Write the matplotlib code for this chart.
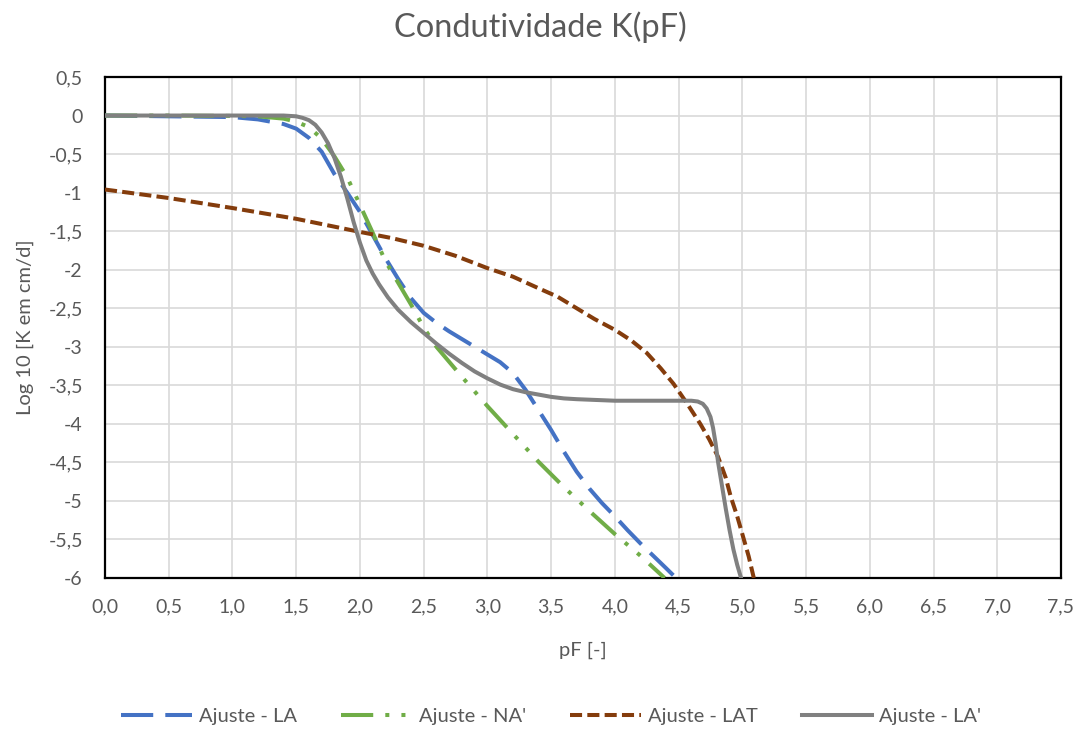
import matplotlib
matplotlib.use("Agg")
import matplotlib.pyplot as plt
from matplotlib.ticker import FixedLocator, FuncFormatter

# ---- data ----
pf_la = [0, 0.5, 1.0, 1.2, 1.4, 1.5, 1.6, 1.7, 1.8, 1.9, 2.0, 2.1, 2.2, 2.3, 2.4, 2.5, 2.6,
         2.7, 2.8, 2.9, 3.0, 3.1, 3.2, 3.3, 3.4, 3.5, 3.6, 3.7, 3.8, 3.9, 4.0, 4.1, 4.2,
         4.3, 4.4, 4.48]
k_la = [0, -0.01, -0.02, -0.05, -0.11, -0.17, -0.29, -0.47, -0.76, -1.0, -1.25, -1.55,
        -1.85, -2.12, -2.37, -2.56, -2.69, -2.8, -2.9, -3.0, -3.1, -3.2, -3.34, -3.56,
        -3.82, -4.08, -4.36, -4.62, -4.84, -5.03, -5.2, -5.38, -5.55, -5.71, -5.87, -6.0]

pf_na = [0, 0.5, 1.0, 1.2, 1.4, 1.5, 1.6, 1.7, 1.8, 1.9, 2.0, 2.1, 2.2, 2.3, 2.4, 2.5,
         2.6, 2.8, 3.0, 3.2, 3.4, 3.6, 3.8, 4.0, 4.2, 4.39]
k_na = [0, 0, -0.005, -0.01, -0.04, -0.08, -0.15, -0.3, -0.53, -0.8, -1.16, -1.52,
        -1.89, -2.17, -2.45, -2.75, -3.0, -3.39, -3.77, -4.13, -4.49, -4.82, -5.13,
        -5.43, -5.71, -6.0]

pf_lat = [0, 0.5, 1.0, 1.5, 2.0, 2.25, 2.5, 2.75, 3.0, 3.2, 3.4, 3.55, 3.7, 3.84, 4.0,
          4.13, 4.25, 4.36, 4.46, 4.56, 4.67, 4.74, 4.81, 4.87, 4.91, 4.96, 5.0, 5.05,
          5.09]
k_lat = [-0.96, -1.07, -1.2, -1.34, -1.51, -1.59, -1.69, -1.82, -1.98, -2.09, -2.24,
         -2.35, -2.5, -2.64, -2.78, -2.92, -3.08, -3.28, -3.48, -3.72, -4.0, -4.2,
         -4.43, -4.7, -4.95, -5.2, -5.43, -5.72, -6.0]

pf_la2 = [0, 0.5, 1.0, 1.4, 1.5, 1.55, 1.6, 1.65, 1.7, 1.75, 1.8, 1.85, 1.9, 1.95, 2.0,
          2.05, 2.1, 2.15, 2.22, 2.3, 2.4, 2.5, 2.6, 2.7, 2.8, 2.9, 3.0, 3.1, 3.2, 3.3,
          3.4, 3.5, 3.6, 3.7, 3.85, 4.0, 4.3, 4.6, 4.65, 4.69, 4.72, 4.75, 4.77, 4.79,
          4.81, 4.84, 4.87, 4.9, 4.93, 4.96, 4.99]
k_la2 = [0, 0, 0, 0, -0.01, -0.03, -0.06, -0.12, -0.22, -0.36, -0.55, -0.79, -1.07,
         -1.38, -1.65, -1.88, -2.05, -2.19, -2.36, -2.52, -2.68, -2.82, -2.96, -3.09,
         -3.21, -3.32, -3.41, -3.49, -3.55, -3.59, -3.62, -3.65, -3.67, -3.68, -3.69,
         -3.70, -3.70, -3.70, -3.71, -3.74, -3.80, -3.91, -4.05, -4.25, -4.5, -4.8,
         -5.1, -5.38, -5.63, -5.83, -6.0]

series_names = ["Ajuste - LA", "Ajuste - NA'", "Ajuste - LAT", "Ajuste - LA'"]
title = "Condutividade K(pF)"
xlabel = "pF [-]"
ylabel = "Log 10 [K em cm/d]"
x_ticks = [i * 0.5 for i in range(16)]
y_ticks = [0.5 - i * 0.5 for i in range(14)]

# ---- style ----
plt.rcParams['font.family'] = ['Lato', 'DejaVu Sans']
txt = '#595959'
c_blue, c_green, c_brown, c_gray = '#4472C4', '#70AD47', '#843C0C', '#808080'
lw = 2.9

fig = plt.figure(figsize=(10.81, 7.31), dpi=100)
ax = fig.add_axes([105 / 1081, (731 - 578) / 731, (1061 - 105) / 1081, (578 - 77) / 731])

ax.plot(pf_la, k_la, color=c_blue, lw=lw, dashes=(8, 3), solid_capstyle='butt',
        label=series_names[0], zorder=3)
ax.plot(pf_na, k_na, color=c_green, lw=lw, dashes=(8, 3, 1, 3, 1, 3),
        label=series_names[1], zorder=3)
ax.plot(pf_lat, k_lat, color=c_brown, lw=lw, dashes=(3, 1.3),
        label=series_names[2], zorder=3)
ax.plot(pf_la2, k_la2, color=c_gray, lw=lw, label=series_names[3], zorder=4,
        solid_joinstyle='round')

ax.set_xlim(0, 7.5)
ax.set_ylim(-6, 0.5)
ax.xaxis.set_major_locator(FixedLocator(x_ticks))
ax.yaxis.set_major_locator(FixedLocator(y_ticks))
ax.xaxis.set_major_formatter(FuncFormatter(lambda v, p: f"{v:.1f}".replace('.', ',')))


def yfmt(v, p):
    if abs(v - round(v)) < 1e-9:
        return f"{int(round(v))}"
    return f"{v:.1f}".replace('.', ',')


ax.yaxis.set_major_formatter(FuncFormatter(yfmt))
ax.grid(True, color='#D9D9D9', lw=1.2, zorder=0)
ax.set_axisbelow(True)
for s in ax.spines.values():
    s.set_color('black')
    s.set_linewidth(1.6)
ax.tick_params(length=0, labelsize=14, colors=txt)
ax.tick_params(axis='y', pad=16)
ax.tick_params(axis='x', pad=15)

ax.set_xlabel(xlabel, fontsize=14.5, color=txt)
ax.set_ylabel(ylabel, fontsize=14.5, color=txt)
ax.xaxis.set_label_coords(0.5, (578 - 650) / 501, transform=ax.transAxes)
ax.yaxis.set_label_coords((25 - 105) / 956, 0.5, transform=ax.transAxes)
ax.xaxis.label.set_va('center')
ax.yaxis.label.set_va('center')
fig.text(0.5, 1 - 27 / 731, title, ha='center', va='center', fontsize=23.5, color=txt)

leg = fig.legend(loc='center', bbox_to_anchor=(0.51, 1 - 716 / 731), ncol=4,
                 frameon=False, fontsize=14.5, handlelength=3.5, columnspacing=2.2,
                 handletextpad=0.35)
for t in leg.get_texts():
    t.set_color(txt)

fig.savefig('out.png', dpi=100)
